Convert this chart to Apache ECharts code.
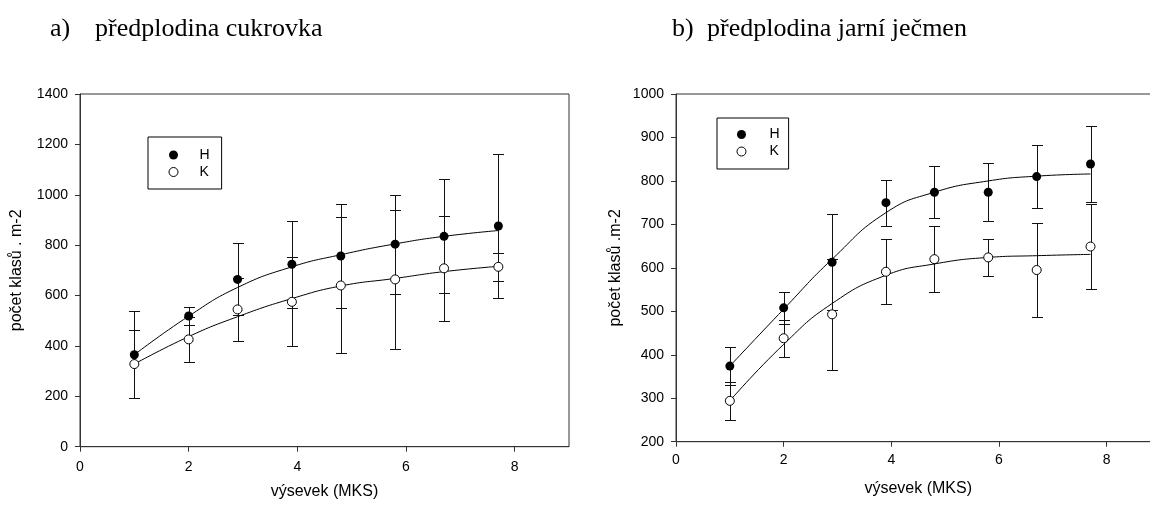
<!DOCTYPE html>
<html>
<head>
<meta charset="utf-8">
<script src="https://cdn.jsdelivr.net/npm/echarts@6/dist/echarts.min.js"></script>
<style>
html,body{margin:0;padding:0;background:#fff;}
#chart{width:1150px;height:505px;}
</style>
</head>
<body>
<div id="chart"></div>
<script>
// ---- data ----
const xTickLabels = [0, 2, 4, 6, 8];
const yTicksA = [0, 200, 400, 600, 800, 1000, 1200, 1400];
const yTicksB = [200, 300, 400, 500, 600, 700, 800, 900, 1000];

// a) předplodina cukrovka
const xA = [1, 2, 2.9, 3.9, 4.8, 5.8, 6.7, 7.7];
const aH = [365, 519, 664, 724, 757, 804, 835, 876];
const aHerr = [172, 37, 143, 173, 207, 197, 226, 285];
const aK = [328, 426, 545, 575, 640, 664, 708, 714];
const aKerr = [134, 90, 126, 177, 270, 275, 208, 55];
const aHcurve = [365, 518, 632, 714, 762, 805, 835, 858];
const aKcurve = [328, 437, 516, 588, 638, 668, 695, 716];

// b) předplodina jarní ječmen
const xB = [1, 2, 2.9, 3.9, 4.8, 5.8, 6.7, 7.7];
const bH = [374, 508, 613, 750, 774, 774, 810, 839];
const bHerr = [44, 37, 110, 53, 60, 67, 72, 87];
const bK = [294, 438, 493, 591, 620, 624, 595, 649];
const bKerr = [44, 43, 127, 75, 76, 43, 109, 98];
const bHcurve = [374, 505, 620, 727, 774, 800, 811, 816];
const bKcurve = [294, 424, 518, 583, 609, 624, 628, 631];

const titleA = ['a)', 'předplodina cukrovka'];
const titleB = ['b)', 'předplodina jarní ječmen'];
const yNameA = 'počet klasů . m-2';
const yNameB = 'počet klasů .m-2';
const xName = 'výsevek (MKS)';
const legendNames = ['H', 'K'];

// ---- helpers ----
const SANS = 'Liberation Sans, Arial, sans-serif';
const SERIF = 'Liberation Serif, Times New Roman, serif';
const AX = '#333';

function pairs(xs, ys) { return xs.map((x, i) => [x, ys[i]]); }
function errData(xs, m, e) { return xs.map((x, i) => [x, m[i] - e[i], m[i] + e[i]]); }

function errRender(params, api) {
  const x = api.value(0), lo = api.value(1), hi = api.value(2);
  const pLo = api.coord([x, lo]);
  const pHi = api.coord([x, hi]);
  const w = 5.5;
  const cx = Math.round(pLo[0]) + 0.5;
  const yl = Math.round(pLo[1]) + 0.5;
  const yh = Math.round(pHi[1]) + 0.5;
  const style = { stroke: '#111', lineWidth: 1 };
  return {
    type: 'group',
    children: [
      { type: 'line', shape: { x1: cx, y1: yl, x2: cx, y2: yh }, style },
      { type: 'line', shape: { x1: cx - w, y1: yl, x2: cx + w, y2: yl }, style },
      { type: 'line', shape: { x1: cx - w, y1: yh, x2: cx + w, y2: yh }, style }
    ]
  };
}

function plain(v) { return String(v); }

function xAxisDef(gridIndex, labelMargin, nameGap) {
  return {
    type: 'value', gridIndex, min: 0, max: 9, interval: 2,
    name: xName, nameLocation: 'middle', nameGap,
    nameTextStyle: { fontFamily: SANS, fontSize: 16, color: '#000' },
    axisLine: { show: true, lineStyle: { color: AX, width: 1 } },
    axisTick: { show: true, length: 5, inside: false, customValues: xTickLabels, lineStyle: { color: AX } },
    axisLabel: { margin: labelMargin, customValues: xTickLabels, formatter: plain, fontFamily: SANS, fontSize: 14, color: '#000' },
    splitLine: { show: false }
  };
}
function yAxisDef(gridIndex, min, max, interval, ticks, name, nameGap) {
  return {
    type: 'value', gridIndex, min, max, interval,
    name, nameLocation: 'middle', nameGap, nameRotate: 90,
    nameTextStyle: { fontFamily: SANS, fontSize: 16, color: '#000' },
    axisLine: { show: true, lineStyle: { color: AX, width: 1 } },
    axisTick: { show: true, length: 5, inside: false, customValues: ticks, lineStyle: { color: AX } },
    axisLabel: { margin: 12, customValues: ticks, formatter: plain, fontFamily: SANS, fontSize: 14, color: '#000' },
    splitLine: { show: false }
  };
}

function seriesSet(idx, xs, H, Herr, K, Kerr, Hc, Kc) {
  return [
    { type: 'custom', name: 'errH' + idx, xAxisIndex: idx, yAxisIndex: idx, renderItem: errRender,
      encode: { x: 0, y: [1, 2] }, data: errData(xs, H, Herr), z: 2, silent: true },
    { type: 'custom', name: 'errK' + idx, xAxisIndex: idx, yAxisIndex: idx, renderItem: errRender,
      encode: { x: 0, y: [1, 2] }, data: errData(xs, K, Kerr), z: 2, silent: true },
    { type: 'line', name: 'fitH' + idx, xAxisIndex: idx, yAxisIndex: idx, data: pairs(xs, Hc),
      smooth: 0.5, showSymbol: false, symbol: 'none',
      lineStyle: { color: '#000', width: 1 }, z: 3, silent: true },
    { type: 'line', name: 'fitK' + idx, xAxisIndex: idx, yAxisIndex: idx, data: pairs(xs, Kc),
      smooth: 0.5, showSymbol: false, symbol: 'none',
      lineStyle: { color: '#000', width: 1 }, z: 3, silent: true },
    { type: 'scatter', name: legendNames[0], xAxisIndex: idx, yAxisIndex: idx, data: pairs(xs, H),
      symbol: 'circle', symbolSize: 9, itemStyle: { color: '#000', borderColor: '#000', borderWidth: 0, opacity: 1 }, z: 5 },
    { type: 'scatter', name: legendNames[1], xAxisIndex: idx, yAxisIndex: idx, data: pairs(xs, K),
      symbol: 'circle', symbolSize: 9, itemStyle: { color: '#fff', borderColor: '#000', borderWidth: 1, opacity: 1 }, z: 5 }
  ];
}

function legendDef(left, top, padding, textPad) {
  return {
    left, top, orient: 'vertical', padding, itemWidth: 9, itemHeight: 9, itemGap: 3,
    borderColor: '#000', borderWidth: 1, selectedMode: false, backgroundColor: '#fff',
    textStyle: { fontFamily: SANS, fontSize: 14, color: '#000', padding: [0, 0, 0, textPad] },
    data: [
      { name: legendNames[0], icon: 'circle', itemStyle: { color: '#000', borderColor: '#000', borderWidth: 0 } },
      { name: legendNames[1], icon: 'circle', itemStyle: { color: '#fff', borderColor: '#000', borderWidth: 1 } }
    ]
  };
}

function titleDef(text, left) {
  return { text, left, top: 16, padding: 0,
    textStyle: { fontFamily: SERIF, fontSize: 26, fontWeight: 'normal', color: '#000' } };
}

const chart = echarts.init(document.getElementById('chart'), null, { renderer: 'canvas' });
chart.setOption({
  animation: false,
  backgroundColor: '#fff',
  title: [
    titleDef(titleA[0], 50), titleDef(titleA[1], 95),
    titleDef(titleB[0], 672), titleDef(titleB[1], 707)
  ],
  legend: [
    legendDef(148, 137, [11, 12, 10, 20.5], 16.5),
    legendDef(717, 118, [9.5, 9, 10.5, 19.5], 18.5)
  ],
  grid: [
    { left: 80, top: 94, width: 489, height: 352.7, show: true, borderColor: AX, borderWidth: 1, backgroundColor: 'transparent', outerBoundsMode: 'none', containLabel: false },
    { left: 676, top: 94, width: 484.5, height: 347.7, show: true, borderColor: AX, borderWidth: 1, backgroundColor: 'transparent', outerBoundsMode: 'none', containLabel: false }
  ],
  xAxis: [xAxisDef(0, 13, 37), xAxisDef(1, 11.5, 39)],
  yAxis: [
    yAxisDef(0, 0, 1400, 200, yTicksA, yNameA, 55),
    yAxisDef(1, 200, 1000, 100, yTicksB, yNameB, 52)
  ],
  series: [].concat(
    seriesSet(0, xA, aH, aHerr, aK, aKerr, aHcurve, aKcurve),
    seriesSet(1, xB, bH, bHerr, bK, bKerr, bHcurve, bKcurve)
  )
});
</script>
</body>
</html>
